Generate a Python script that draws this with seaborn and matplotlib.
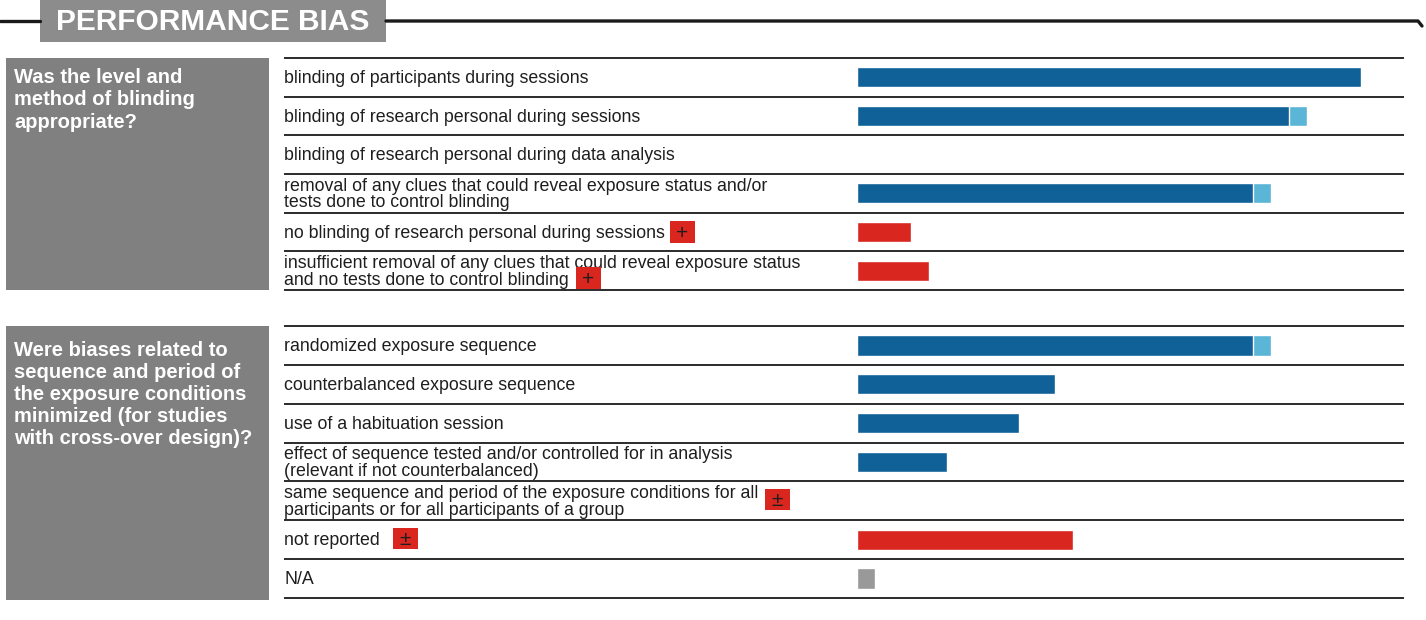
import matplotlib
matplotlib.use("Agg")
import matplotlib.pyplot as plt
import matplotlib.transforms as mtransforms
from matplotlib.patches import Rectangle
from matplotlib.lines import Line2D
import seaborn as sns
import pandas as pd

# --- data (number of studies per item) ---
g1_question = "Was the level and\nmethod of blinding\nappropriate?"
g1_labels = ["blinding of participants during sessions",
             "blinding of research personal during sessions",
             "blinding of research personal during data analysis",
             "removal of any clues that could reveal exposure status and/or\ntests done to control blinding",
             "no blinding of research personal during sessions",
             "insufficient removal of any clues that could reveal exposure status\nand no tests done to control blinding"]
g1_main = [28, 24, 0, 22, 3, 4]
g1_extra = [0, 1, 0, 1, 0, 0]
g1_kind = ["low", "low", "low", "low", "high", "high"]
g1_badge = ["", "", "", "", "+", "+"]

g2_question = "Were biases related to\nsequence and period of\nthe exposure conditions\nminimized (for studies\nwith cross-over design)?"
g2_labels = ["randomized exposure sequence",
             "counterbalanced exposure sequence",
             "use of a habituation session",
             "effect of sequence tested and/or controlled for in analysis\n(relevant if not counterbalanced)",
             "same sequence and period of the exposure conditions for all\nparticipants or for all participants of a group",
             "not reported",
             "N/A"]
g2_main = [22, 11, 9, 5, 0, 12, 1]
g2_extra = [1, 0, 0, 0, 0, 0, 0]
g2_kind = ["low", "low", "low", "low", "unclear", "unclear", "na"]
g2_badge = ["", "", "", "", "±", "±", ""]

kind_colors = {"low": "#106197", "high": "#d9261e", "unclear": "#d9261e", "na": "#999999"}
light_blue = "#5ab5d7"

sns.set_style("white")
plt.rcParams["font.family"] = ["Liberation Sans", "DejaVu Sans"]

W, H = 1426, 620
fig = plt.figure(figsize=(W / 100, H / 100), dpi=100)

def fx(x):
    return x / W

def fy(y):
    return 1 - y / H

# title banner
fig.add_artist(Line2D([fx(0), fx(40)], [fy(21), fy(21)], color="#1a1a1a", lw=2.4))
fig.add_artist(Line2D([fx(386), fx(1418), fx(1422)], [fy(21), fy(21), fy(26)], color="#1a1a1a", lw=2.4))
fig.add_artist(Rectangle((fx(40), fy(42)), fx(346), 42 / H, color="#8c8c8c", lw=0))
fig.text(fx(213), fy(22), "PERFORMANCE BIAS", color="white", fontsize=21.5,
         fontweight="bold", ha="center", va="center")

# (question, text offset, spacing, labels, main, extra, kind, badge, y top, y bottom, box bottom, badge positions)
groups = [
    (g1_question, 10, 1.22, g1_labels, g1_main, g1_extra, g1_kind, g1_badge, 58, 290, 290,
     {4: (682, 232), 5: (588, 278)}),
    (g2_question, 15, 1.2, g2_labels, g2_main, g2_extra, g2_kind, g2_badge, 326, 598, 600,
     {4: (777, 499), 5: (405, 538)}),
]

bar_left, bar_right, text_left = 857, 1404, 284
unit = 18.0  # px per study

for question, qoff, qspace, labels, main, extra, kind, badge, ytop, ybot, boxbot, badge_pos in groups:
    # grey question box
    fig.add_artist(Rectangle((fx(6), fy(boxbot)), fx(263), (boxbot - ytop) / H,
                             color="#808080", lw=0))
    fig.text(fx(14), fy(ytop + qoff), question, color="white", fontsize=14.5,
             fontweight="bold", ha="left", va="top", linespacing=qspace)

    df = pd.DataFrame({"label": labels, "main": main,
                       "total": [m + e for m, e in zip(main, extra)], "kind": kind})
    ax = fig.add_axes([fx(bar_left), fy(ybot), fx(bar_right - bar_left), (ybot - ytop) / H])
    sns.barplot(data=df, x="total", y="label", color=light_blue, width=0.52,
                errorbar=None, orient="h", ax=ax, saturation=1)
    sns.barplot(data=df, x="main", y="label", hue="label",
                palette=[kind_colors[k] for k in kind], width=0.52,
                errorbar=None, orient="h", legend=False, ax=ax, saturation=1)
    ax.set_xlim(0, (bar_right - bar_left) / unit)
    ax.set_ylim(len(labels) - 0.5, -0.5)
    ax.set_axis_off()

    # row separators running under the labels
    xmin = (text_left - bar_left) / (bar_right - bar_left)
    for i in range(len(labels) + 1):
        ax.plot([xmin, 1], [i - 0.5, i - 0.5], transform=ax.get_yaxis_transform(),
                color="#2b2b2b", lw=1.4, clip_on=False, solid_capstyle="butt")

    trans = mtransforms.blended_transform_factory(fig.transFigure, ax.transData)
    for i, lab in enumerate(labels):
        ax.text(fx(text_left), i + 0.03, lab, transform=trans, ha="left", va="center",
                fontsize=12.8, color="#1e1e1e", linespacing=0.95)
        if badge[i]:
            bx, by = badge_pos[i]
            fig.add_artist(Rectangle((fx(bx - 12.5), fy(by + 10.5)), fx(25), 21 / H,
                                     color="#d9261e", lw=0))
            fig.text(fx(bx), fy(by + 1.5), badge[i], ha="center", va="center",
                     fontsize=15, color="#1e1e1e")

fig.savefig("out.png", dpi=100)
